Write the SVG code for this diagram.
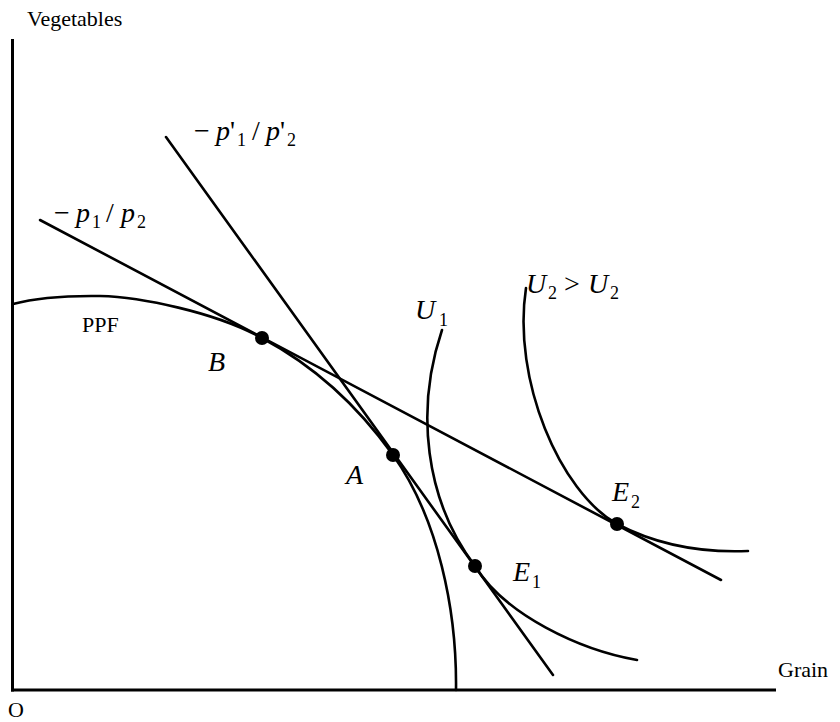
<svg xmlns="http://www.w3.org/2000/svg" width="840" height="722" viewBox="0 0 840 722">
<style>
.ax{stroke:#000;stroke-width:3;fill:none}
.cv{stroke:#000;stroke-width:2.6;fill:none;stroke-linecap:round}
.dot{fill:#000}
text{font-family:"Liberation Serif","Times New Roman",serif;fill:#000}
.lbl{font-size:22px}
.it{font-style:italic;font-size:28px}
.up{font-size:28px}
.sub{font-size:18px;font-style:normal}
</style>
<rect width="840" height="722" fill="#fff"/>
<g id="axes">
<line class="ax" x1="12.5" y1="39" x2="12.5" y2="691.5"/>
<line class="ax" x1="11" y1="690" x2="776" y2="690"/>
<text class="lbl" x="27" y="26">Vegetables</text>
<text class="lbl" x="778" y="677">Grain</text>
<text class="lbl" x="8" y="717">O</text>
</g>
<g id="connectors">
<path id="ppf" class="cv" d="M13,304 C35,298 65,295.5 100,296 C140,297 215,312 262,338 C307,362 353,399 393,455 C438,518 457,610 456,690"/>
<line id="price1" class="cv" x1="40" y1="220" x2="721" y2="580"/>
<line id="price2" class="cv" x1="166" y1="137" x2="553" y2="675"/>
<path id="u1" class="cv" d="M442,330 C415,410 425,500 475,566 C505,615 580,650 637,660"/>
<path id="u2" class="cv" d="M526,288 C512,380 560,492 617,524 C657,545 700,553 748,551"/>
</g>
<g id="ppf-label"><text class="lbl" x="82" y="332">PPF</text></g>
<g id="label-p"><text class="up" y="222"><tspan x="54">−</tspan><tspan class="it" x="76">p</tspan><tspan class="sub" x="92" y="228">1</tspan><tspan x="106" y="222">/</tspan><tspan class="it" x="121">p</tspan><tspan class="sub" x="137" y="228">2</tspan></text></g>
<g id="label-pp"><text class="up" y="140"><tspan x="194">−</tspan><tspan class="it" x="216">p</tspan><tspan x="230">'</tspan><tspan class="sub" x="237" y="146">1</tspan><tspan x="252" y="140">/</tspan><tspan class="it" x="266">p</tspan><tspan x="280">'</tspan><tspan class="sub" x="287" y="146">2</tspan></text></g>
<g id="node-B"><circle class="dot" cx="262" cy="338" r="7"/><text class="it" x="208" y="371">B</text></g>
<g id="node-A"><circle class="dot" cx="393" cy="455" r="7"/><text class="it" x="346" y="484">A</text></g>
<g id="node-E1"><circle class="dot" cx="475" cy="566" r="7"/><text class="it" x="513" y="581">E<tspan class="sub" x="532" y="588">1</tspan></text></g>
<g id="node-E2"><circle class="dot" cx="617" cy="524" r="7"/><text class="it" x="612" y="501">E<tspan class="sub" x="631" y="508">2</tspan></text></g>
<g id="label-U1"><text class="it" x="415" y="319">U<tspan class="sub" x="439" y="326">1</tspan></text></g>
<g id="label-U2"><text class="it" x="526" y="293">U<tspan class="sub" x="548" y="299">2</tspan><tspan class="up" font-style="normal" x="564" y="293">&gt;</tspan><tspan x="588" y="293">U</tspan><tspan class="sub" x="610" y="299">2</tspan></text></g>
</svg>
